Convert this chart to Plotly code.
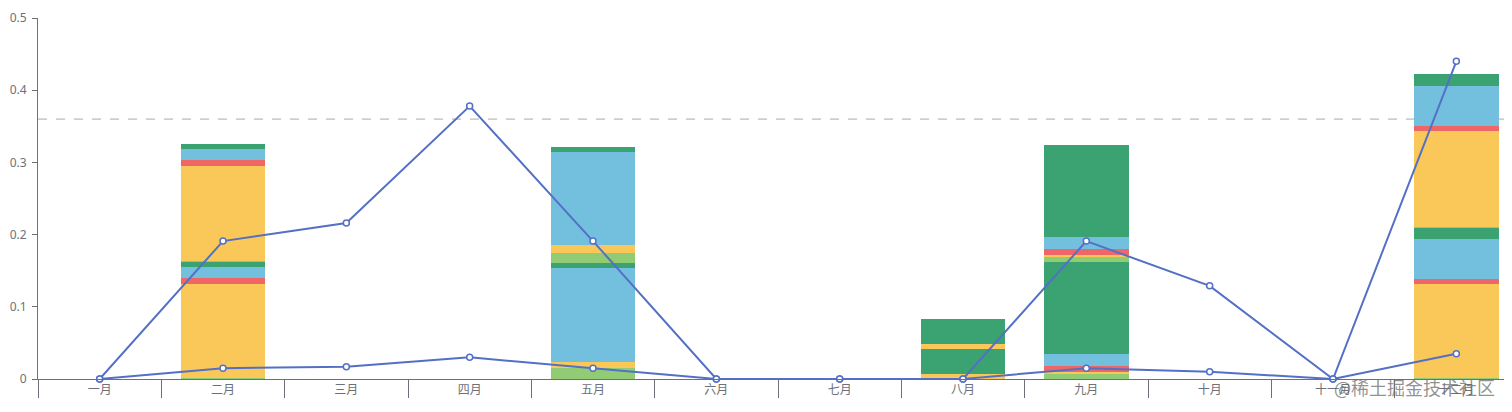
import plotly.graph_objects as go

months = ["一月", "二月", "三月", "四月", "五月", "六月", "七月", "八月", "九月", "十月", "十一月", "十二月"]

# First stack group (bottom half of each bar)
a_lightgreen = [0, 0.001, 0, 0, 0.015, 0, 0, 0, 0.007, 0, 0, 0.002]
a_yellow     = [0, 0.130, 0, 0, 0.009, 0, 0, 0.007, 0.003, 0, 0, 0.129]
a_red        = [0, 0.009, 0, 0, 0, 0, 0, 0, 0.008, 0, 0, 0.008]
a_blue       = [0, 0.015, 0, 0, 0.130, 0, 0, 0, 0.016, 0, 0, 0.055]
a_green      = [0, 0.008, 0, 0, 0.006, 0, 0, 0.034, 0.128, 0, 0, 0.016]

# Second stack group (top half of each bar)
b_lightgreen = [0, 0.001, 0, 0, 0.015, 0, 0, 0, 0.007, 0, 0, 0.001]
b_yellow     = [0, 0.131, 0, 0, 0.010, 0, 0, 0.007, 0.003, 0, 0, 0.132]
b_red        = [0, 0.008, 0, 0, 0, 0, 0, 0, 0.008, 0, 0, 0.008]
b_blue       = [0, 0.015, 0, 0, 0.129, 0, 0, 0, 0.016, 0, 0, 0.055]
b_green      = [0, 0.008, 0, 0, 0.007, 0, 0, 0.035, 0.128, 0, 0, 0.016]

line_upper = [0, 0.191, 0.216, 0.378, 0.191, 0, 0, 0, 0.191, 0.129, 0, 0.440]
line_lower = [0, 0.015, 0.017, 0.030, 0.015, 0, 0, 0, 0.015, 0.010, 0, 0.035]

threshold = 0.36
y_ticks = [0, 0.1, 0.2, 0.3, 0.4, 0.5]
y_tick_text = ["0", "0.1", "0.2", "0.3", "0.4", "0.5"]

C_LG, C_Y, C_R, C_B, C_G = "#91cc75", "#fac858", "#ee6666", "#73c0de", "#3ba272"
C_LINE = "#5470c6"
AXIS = "#6e7079"

fig = go.Figure()
for vals, col in [(a_lightgreen, C_LG), (a_yellow, C_Y), (a_red, C_R), (a_blue, C_B), (a_green, C_G),
                  (b_lightgreen, C_LG), (b_yellow, C_Y), (b_red, C_R), (b_blue, C_B), (b_green, C_G)]:
    fig.add_trace(go.Bar(x=months, y=vals, marker=dict(color=col, line=dict(width=0)), showlegend=False))

for vals in [line_upper, line_lower]:
    fig.add_trace(go.Scatter(x=months, y=vals, mode="lines+markers",
                             line=dict(color=C_LINE, width=2),
                             marker=dict(symbol="circle", size=6, color="white",
                                         line=dict(color=C_LINE, width=1.5)),
                             showlegend=False, cliponaxis=False))

fig.add_shape(type="line", xref="paper", yref="y", x0=0, x1=1, y0=threshold, y1=threshold,
              line=dict(color="#aaaaaa", width=1, dash="dash"), layer="below")

fig.add_annotation(text="@稀土掘金技术社区", xref="paper", yref="paper",
                   x=0.986, y=-0.022, xanchor="right", yanchor="middle", showarrow=False,
                   font=dict(family="Noto Sans CJK SC", size=18, color="rgba(110,110,110,0.75)"))

fig.update_layout(
    width=1510, height=404,
    margin=dict(l=30, r=0, t=10, b=33),
    barmode="stack", bargap=0.316,
    plot_bgcolor="white", paper_bgcolor="white",
    font=dict(family="Noto Sans CJK SC, Noto Sans", size=12, color=AXIS),
    xaxis=dict(type="category", range=[-0.5, 11.5], showline=True, linecolor=AXIS, linewidth=1,
               ticks="outside", tickson="boundaries", ticklen=18, tickcolor=AXIS,
               ticklabelstandoff=0, showgrid=False, zeroline=False, automargin=False,
               tickfont=dict(family="Noto Sans CJK SC", size=12, color=AXIS)),
    yaxis=dict(range=[0, 0.5], tickvals=y_ticks, ticktext=y_tick_text,
               showline=True, linecolor=AXIS, linewidth=1, ticks="outside", ticklen=5,
               tickcolor=AXIS, showgrid=False, zeroline=False, automargin=False,
               ticklabelstandoff=3,
               tickfont=dict(family="Noto Sans", size=12, color=AXIS)),
)

fig.write_html("out.html")
